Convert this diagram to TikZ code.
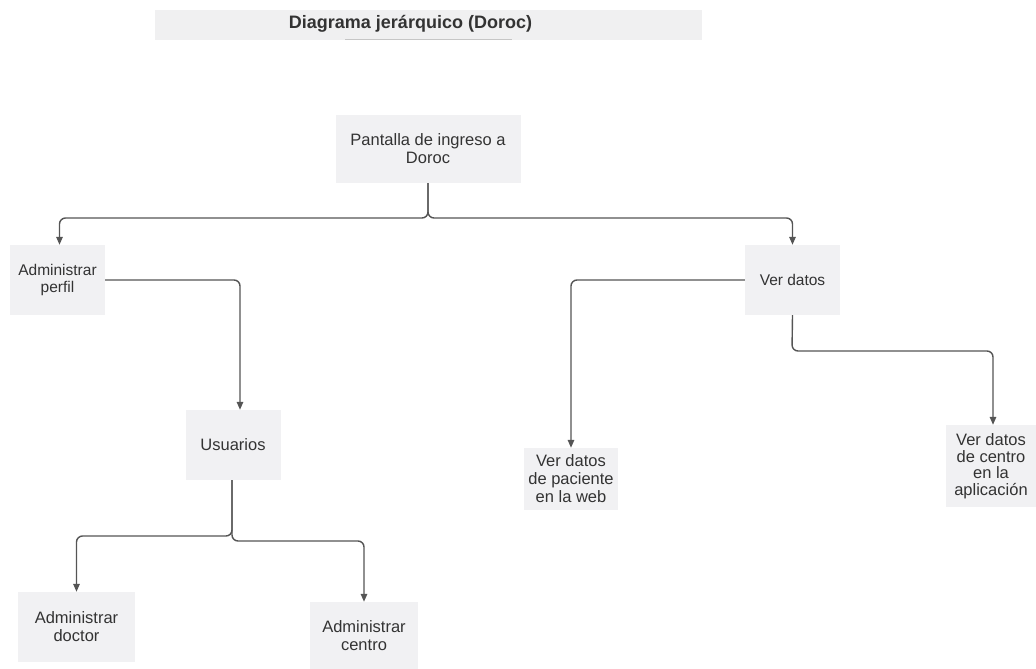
\documentclass[tikz,border=0pt]{standalone}
\usepackage{fontspec}
\setmainfont{Liberation Sans}
\usetikzlibrary{arrows.meta}

\begin{document}
\begin{tikzpicture}[x=1pt, y=-1pt,
    box/.style={fill=boxColour, draw=none, align=center, text=textColour, inner sep=2pt, font=\fontsize{16.5}{18}\selectfont},
    smallbox/.style={box, font=\fontsize{15.5}{17}\selectfont},
    conn/.style={draw=lineColour, line width=1.4pt, rounded corners=6pt, -{Triangle[length=8pt,width=6.5pt]}}]
    \definecolor{boxColour}{HTML}{F1F1F3}
    \definecolor{barColour}{HTML}{F0F0F1}
    \definecolor{lineColour}{HTML}{555555}
    \definecolor{textColour}{HTML}{333333}

    \useasboundingbox (0,0) rectangle (1036,669);

    % Title bar
    \fill[barColour] (155,10) rectangle (702,40);
    \node[text=textColour, font=\fontsize{18}{20}\selectfont\bfseries] (titulo) at (410.5,24) {Diagrama jerárquico (Doroc)};
    \draw[gray!45, line width=1pt] (345,39.5) -- (512,39.5);

    % Boxes
    \node[box, minimum width=185pt, minimum height=68pt] (pantalla) at (428,149) {Pantalla de ingreso a\\Doroc};
    \node[smallbox, minimum width=95pt, minimum height=70pt] (perfil) at (57.5,280) {Administrar\\perfil};
    \node[box, minimum width=95pt, minimum height=70pt] (usu) at (233,445) {Usuarios};
    \node[box, minimum width=117pt, minimum height=70pt] (doctor) at (76.5,627) {Administrar\\doctor};
    \node[box, minimum width=108pt, minimum height=68pt] (centro) at (364,636) {Administrar\\centro};
    \node[smallbox, minimum width=95pt, minimum height=70pt] (verd) at (792.5,280) {Ver datos};
    \node[box, minimum width=94pt, minimum height=62pt] (pac) at (571,479) {Ver datos\\de paciente\\en la web};
    \node[box, minimum width=91pt, minimum height=82pt, font=\fontsize{16.5}{16.5}\selectfont] (aplic) at (991,466) {Ver datos\\de centro\\en la\\aplicación};

    % Split points
    \coordinate (split1) at (428,218);
    \coordinate (split2) at (232,536);
    \coordinate (split3) at (232,541);
    \coordinate (split4) at (792,351);

    % Connectors
    \draw[conn] (pantalla.south) -- (split1) -| ([xshift=2pt]perfil.north);
    \draw[conn] (pantalla.south) -- (split1) -| (verd.north);
    \draw[conn] (perfil.east) -| ([xshift=7pt]usu.north);
    \draw[conn] ([xshift=-1pt]usu.south) -- (split2) -| (doctor.north);
    \draw[conn] ([xshift=-1pt]usu.south) -- (split3) -| (centro.north);
    \draw[conn] (verd.west) -| (pac.north);
    \draw[conn] (verd.south) -- (split4) -| ([xshift=2pt]aplic.north);

\end{tikzpicture}
\end{document}
